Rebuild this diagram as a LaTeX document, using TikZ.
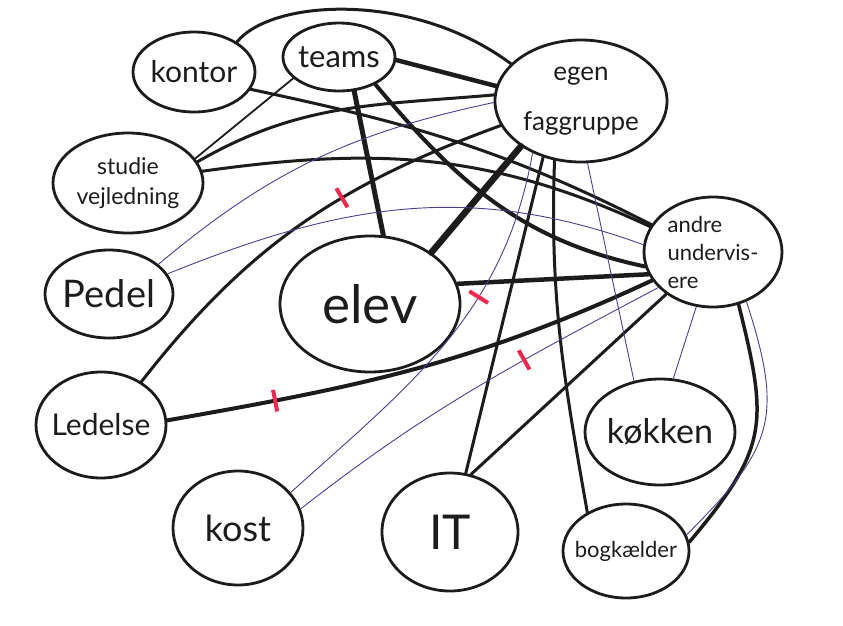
\documentclass[tikz,border=0pt]{standalone}
\usepackage{fontspec}
\setmainfont{Lato}
\usetikzlibrary{shapes.geometric}

\definecolor{ink}{HTML}{1E1B1B}
\definecolor{pen}{HTML}{4A3E94}
\definecolor{tickred}{HTML}{F0284E}

\newcommand{\handsize}[2]{\fontsize{#1}{#2}\selectfont}

\begin{document}
\begin{tikzpicture}[x=1pt, y=1pt,
    spot/.style={draw=ink, line width=2.8pt, ellipse, inner xsep=-14pt, inner ysep=-10pt, align=center, text=ink},
    link/.style={draw=ink, line width=3pt, line cap=round},
    heavy/.style={draw=ink, line width=4.5pt, line cap=round},
    fine/.style={draw=ink, line width=1.8pt, line cap=round},
    thread/.style={draw=pen, line width=0.9pt},
    redtick/.style={sloped, fill=tickred, inner sep=0pt, minimum width=4pt, minimum height=22pt}]
\useasboundingbox (0,0) rectangle (843,-625);

\node[spot, minimum width=122pt, minimum height=80pt, font=\handsize{30}{34}] (kontor) at (194,-72) {kontor};
\node[spot, minimum width=112pt, minimum height=68pt, font=\handsize{31}{34}] (teams) at (339,-57) {teams};
\node[spot, minimum width=172pt, minimum height=122pt, font=\handsize{26}{50}] (egen) at (581,-101) {egen\\faggruppe};
\node[spot, minimum width=150pt, minimum height=100pt, font=\handsize{23}{30}] (studie) at (128,-183) {studie\\vejledning};
\node[spot, minimum width=128pt, minimum height=88pt, font=\handsize{38}{42}] (pedel) at (109,-294) {Pedel};
\node[spot, minimum width=180pt, minimum height=136pt, font=\handsize{53}{56}] (elev) at (370,-304) {elev};
\node[spot, minimum width=138pt, minimum height=110pt, font=\handsize{22}{28}, align=left] (andre) at (713,-252) {andre\\undervis-\\ere};
\node[spot, minimum width=130pt, minimum height=106pt, font=\handsize{30}{34}] (ledelse) at (101,-425) {Ledelse};
\node[spot, minimum width=130pt, minimum height=114pt, font=\handsize{36}{40}] (kost) at (238,-528) {kost};
\node[spot, minimum width=136pt, minimum height=118pt, font=\handsize{48}{52}] (it) at (450,-532) {IT};
\node[spot, minimum width=150pt, minimum height=106pt, font=\handsize{34}{38}] (kokken) at (660,-432) {køkken};
\node[spot, minimum width=126pt, minimum height=94pt, font=\handsize{22}{26}] (bog) at (626,-551) {bogkælder};

\draw[link] (kontor.35) .. controls +(35,43) and +(-98,73) .. (egen.152);
\draw[heavy] (teams.-3) -- (egen.170);
\draw[link] (kontor.-17) to[out=-12, in=153] (andre.156);
\draw[fine] (teams.205) -- (studie.20);
\draw[link] (studie.17) to[out=30, in=185] (egen.176);
\draw[link] (studie.9) to[out=8, in=155] (andre.158);
\draw[heavy, line width=5pt] (teams.-66) -- (elev.79);
\draw[heavy, line width=4pt] (teams.-37) to[out=-50, in=168] (andre.192);
\draw[heavy, line width=6.5pt] (egen.217) -- (elev.40);
\draw[link] (egen.197) to[out=200, in=52] node[redtick, pos=.38] (cut1) {} (ledelse.47);
\draw[heavy] (elev.13) -- (andre.199);
\draw[heavy, line width=4pt] (ledelse.4) to[out=10, in=205] node[redtick, pos=.2] (cut2) {} (andre.205);
\draw[link] (egen.236) -- (it.75);
\draw[link] (egen.246) to[out=-92, in=100] (bog.135);
\draw[link] (andre.222) -- (it.70);
\draw[link, line width=3.5pt] (andre.-64) to[out=-76, in=50, looseness=1.3] (bog.8);
\draw[thread] (andre.-56) to[out=-72, in=45, looseness=1.3] (bog.15);
\draw[thread] (pedel.31) to[out=40, in=192] (egen.181);
\draw[thread] (pedel.19) to[out=22, in=160] (andre.174);
\draw[thread] (kost.34) to[out=42, in=-100] node[redtick, pos=.64] (cut3) {} (egen.227);
\draw[thread] (kost.17) to[out=38, in=208] node[redtick, pos=.65] (cut4) {} (andre.213);
\draw[thread] (egen.-84) -- (kokken.117);
\draw[thread] (andre.-107) -- (kokken.76);
\end{tikzpicture}
\end{document}
